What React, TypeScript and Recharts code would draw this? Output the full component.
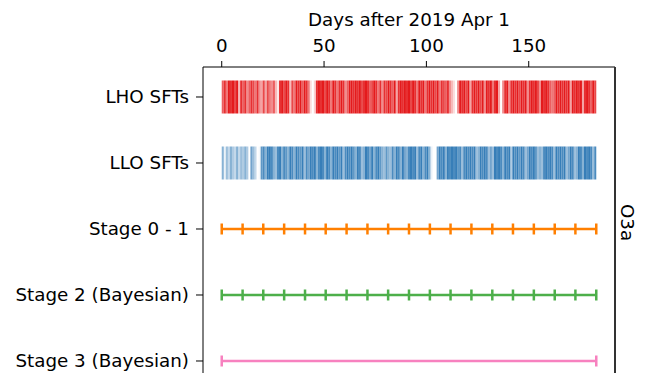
import React from 'react';
import { ComposedChart, Line, XAxis, YAxis, ReferenceArea } from 'recharts';

// rows, top to bottom
const ROWS = ['LHO SFTs', 'LLO SFTs', 'Stage 0 - 1', 'Stage 2 (Bayesian)', 'Stage 3 (Bayesian)'];
const X_TICKS = [0, 50, 100, 150];

// daily SFT coverage (fraction of the day), days 0..182
const LHO_COVERAGE = [
  0.7, 0.9, 0.6, 1, 0.9, 1, 0.8, 1, 0.3, 0.9,
  0.7, 0.9, 0.5, 0.7, 0.9, 0.8, 0.6, 0.9, 0.5, 0.4,
  0.8, 0.4, 0.8, 0.6, 0.5, 0.7, 0.3, 0.1, 0.9, 1,
  0.8, 1, 0.9, 0.3, 0.8, 0.6, 1, 0.9, 1, 0.7,
  1, 0.9, 0.6, 0.15, 0, 0.2, 0.9, 1, 0.9, 1,
  0.8, 1, 0.9, 0.6, 1, 0.9, 0.6, 0.9, 1, 0.9,
  0.5, 0.7, 1, 1, 0.9, 1, 0.9, 1, 0.8, 0.9,
  1, 0.9, 0.7, 0.8, 1, 0.9, 0.6, 0.9, 0.5, 0.9,
  0.8, 1, 0.9, 0.7, 1, 0.4, 0.9, 1, 0.9, 1,
  0.9, 1, 0.8, 1, 0.9, 0.6, 1, 0.9, 1, 0.6,
  0.9, 1, 0.9, 1, 0.8, 1, 0.6, 0.9, 0.8, 0.7,
  0.9, 0.5, 0.3, 0.15, 0, 0.5, 1, 0.9, 1, 0.8,
  1, 0.4, 0.9, 1, 0.9, 1, 0.8, 1, 0.5, 1,
  0.9, 1, 0.6, 0.9, 1, 0.4, 0, 0.5, 0.9, 1,
  0.5, 0.9, 1, 0.9, 1, 0.8, 1, 0.9, 1, 0.5,
  0.9, 1, 0.9, 1, 0.8, 0.5, 1, 0.9, 1, 0.9,
  0.7, 0.6, 0.7, 1, 0.9, 1, 0.9, 1, 0.9, 1,
  0.4, 1, 0.9, 1, 0.9, 1, 0.4, 0.9, 1, 0.9,
  0.7, 1, 0.8,
];

const LLO_COVERAGE = [
  0.6, 0.1, 0.5, 0.3, 0.6, 0.4, 0.3, 0.6, 0.3, 0.5,
  0.4, 0.6, 0.4, 0, 0.7, 0.5, 0.3, 0, 0.05, 0.8,
  0.9, 0.6, 1, 1, 0.9, 0.6, 0.5, 0.9, 1, 0.6,
  0.9, 0.8, 0.6, 1, 0.9, 0.6, 1, 0.9, 0.8, 1,
  0.5, 0.9, 0.7, 1, 0.9, 1, 0.6, 0.9, 1, 0.9,
  0.6, 1, 0.9, 0.6, 1, 0.9, 1, 0.8, 1, 0.5,
  0.9, 1, 0.9, 1, 0.8, 0.6, 1, 0.9, 0.5, 0.6,
  1, 0.9, 0.7, 1, 0.6, 0.9, 1, 0.8, 0.6, 0.5,
  0.8, 0.6, 0.5, 0.9, 0.6, 1, 0.9, 0.6, 1, 0.7,
  0.6, 0.9, 1, 0.9, 1, 0.5, 0.9, 1, 0.6, 0.9,
  1, 0.6, 0.1, 0, 0, 0.7, 1, 0.9, 1, 0.6,
  1, 0.9, 1, 0.9, 1, 0.8, 0.9, 0.5, 0.9, 1,
  0.9, 1, 0.9, 1, 0.5, 0.6, 1, 0.9, 1, 0.9,
  0.5, 0.7, 0.5, 1, 0.9, 1, 0.9, 0.6, 1, 0.9,
  1, 0.4, 1, 0.9, 1, 0.8, 1, 0.9, 0.5, 0.7,
  1, 0.9, 1, 0.8, 0.5, 0.6, 0.5, 0.9, 1, 0.9,
  1, 0.9, 0.5, 1, 0.9, 1, 0.9, 1, 0.5, 0.7,
  1, 0.9, 0.5, 0.6, 1, 0.9, 0.6, 1, 0.9, 1,
  0.9, 0.5, 0.9,
];

// analysis segment boundaries (days)
const STAGE_01_SEGMENTS = [0, 10.2, 20.3, 30.5, 40.7, 50.8, 61, 71.2, 81.3, 91.5, 101.7, 111.8, 122, 132.2, 142.3, 152.5, 162.7, 172.8, 183];
const STAGE_2_SEGMENTS = [0, 10.2, 20.3, 30.5, 40.7, 50.8, 61, 71.2, 81.3, 91.5, 101.7, 111.8, 122, 132.2, 142.3, 152.5, 162.7, 172.8, 183];
const STAGE_3_SEGMENTS = [0, 183];

const FONT = '"DejaVu Sans", sans-serif';
const FONT_SIZE = 18.3;

const toPoints = (days: number[], row: number) => days.map((d) => ({ x: d, y: row }));

const Cap = (color: string) => (props: any) => {
  const { cx, cy, index } = props;
  if (cx == null || cy == null) return <g key={index} />;
  return <line key={index} x1={cx} x2={cx} y1={cy - 5.5} y2={cy + 5.5} stroke={color} strokeWidth={2.5} />;
};

export default function App() {
  const sftRows = [
    { values: LHO_COVERAGE, row: 0, color: '#e41a1c' },
    { values: LLO_COVERAGE, row: 1, color: '#377eb8' },
  ];
  const stages = [
    { days: STAGE_01_SEGMENTS, row: 2, color: '#ff7f00' },
    { days: STAGE_2_SEGMENTS, row: 3, color: '#4daf4a' },
    { days: STAGE_3_SEGMENTS, row: 4, color: '#f781bf' },
  ];

  return (
    <div style={{ width: 641, height: 365, overflow: 'hidden' }}>
      <ComposedChart width={641} height={370} margin={{ top: 0, right: 0, left: 0, bottom: 0 }}>
        <XAxis
          type="number"
          dataKey="x"
          orientation="top"
          domain={[-9.15, 192.15]}
          ticks={X_TICKS}
          allowDataOverflow
          height={59}
          tickSize={6}
          tickMargin={9}
          stroke="#000"
          tick={{ fill: '#000', fontSize: FONT_SIZE, fontFamily: FONT }}
          label={{
            content: ({ viewBox }: any) => (
              <text
                x={viewBox.x + viewBox.width / 2}
                y={viewBox.y + 18}
                textAnchor="middle"
                fontSize={FONT_SIZE}
                fontFamily={FONT}
                fill="#000"
              >
                Days after 2019 Apr 1
              </text>
            ),
          }}
        />
        <YAxis
          yAxisId="rows"
          type="number"
          domain={[-0.4545, 4.2576]}
          reversed
          allowDataOverflow
          ticks={[0, 1, 2, 3, 4]}
          interval={0}
          tickFormatter={(v: number) => ROWS[v] ?? ''}
          width={195}
          tickSize={7}
          tickMargin={7}
          stroke="#000"
          tick={{ fill: '#000', fontSize: FONT_SIZE, fontFamily: FONT }}
        />
        <YAxis
          yAxisId="run"
          orientation="right"
          type="number"
          domain={[0, 1]}
          width={34}
          tick={false}
          tickLine={false}
          axisLine={{ stroke: '#333', strokeWidth: 2 }}
          label={{
            content: ({ viewBox }: any) => {
              const x = viewBox.x + 12;
              const y = viewBox.y + viewBox.height / 2;
              return (
                <text
                  x={x}
                  y={y}
                  transform={`rotate(90 ${x} ${y})`}
                  textAnchor="middle"
                  dominantBaseline="central"
                  fontSize={FONT_SIZE}
                  fontFamily={FONT}
                  fill="#000"
                >
                  O3a
                </text>
              );
            },
          }}
        />

        {sftRows.map((r) =>
          r.values.map((v, d) =>
            v > 0 ? (
              <ReferenceArea
                key={`${r.row}-${d}`}
                yAxisId="rows"
                x1={d}
                x2={d + 1}
                y1={r.row - 0.25}
                y2={r.row + 0.25}
                fill={r.color}
                fillOpacity={v}
                stroke="none"
                ifOverflow="visible"
              />
            ) : null
          )
        )}

        {stages.map((s) => (
          <Line
            key={s.row}
            yAxisId="rows"
            data={toPoints(s.days, s.row)}
            dataKey="y"
            stroke={s.color}
            strokeWidth={2.5}
            dot={Cap(s.color)}
            activeDot={false}
            isAnimationActive={false}
          />
        ))}
      </ComposedChart>
    </div>
  );
}
